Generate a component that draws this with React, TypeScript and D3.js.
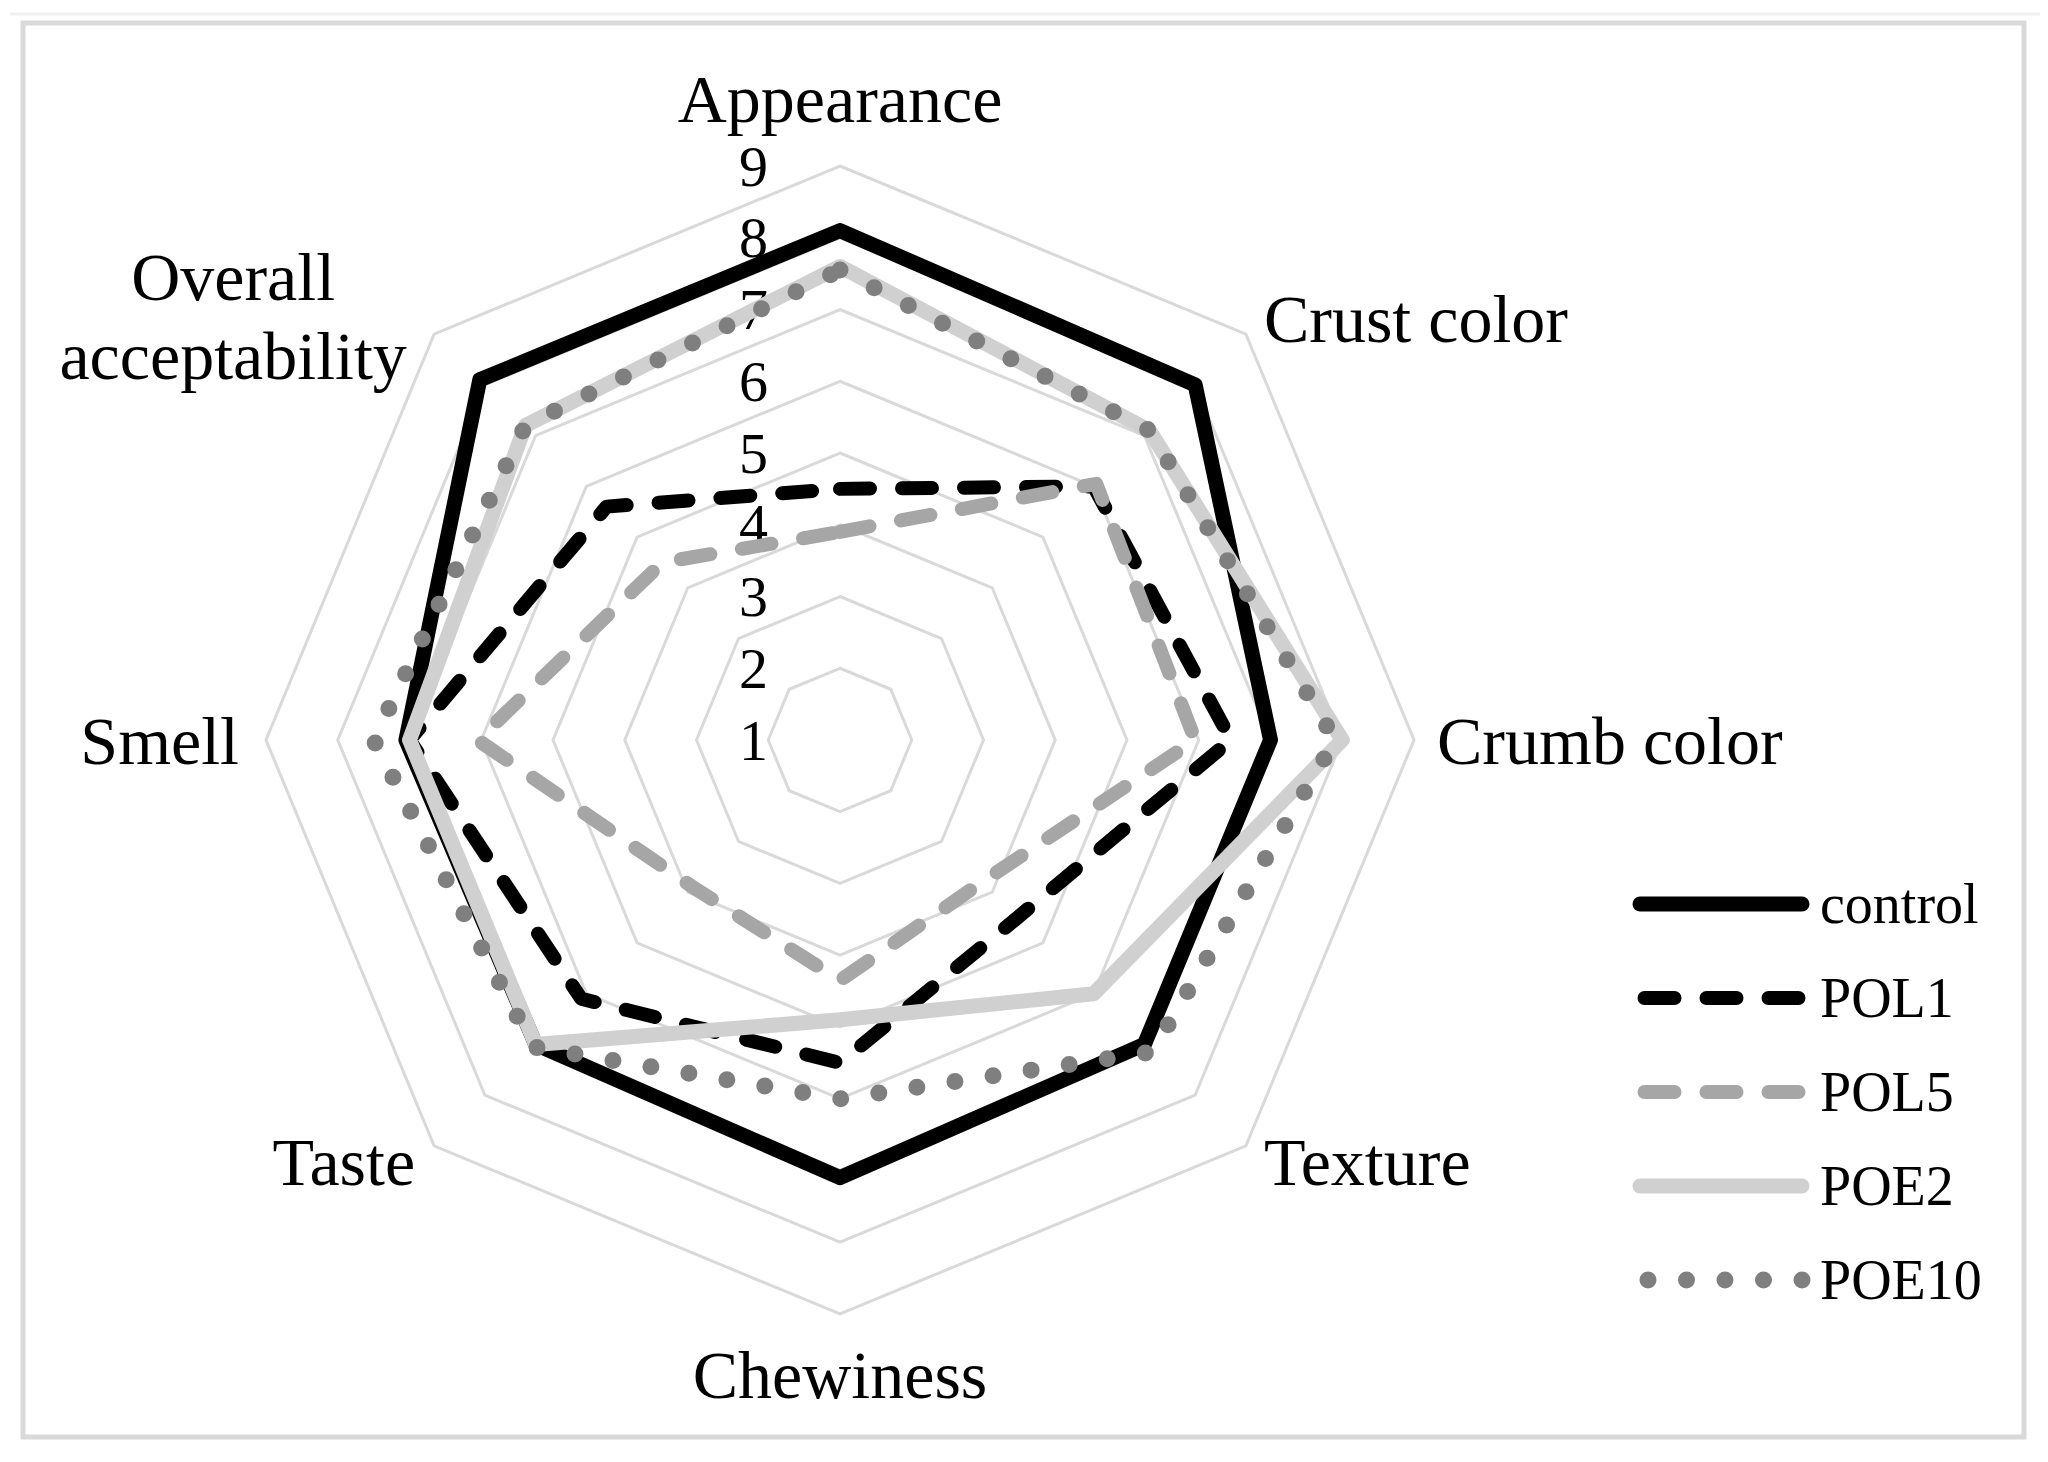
import React from 'react'
import * as d3 from 'd3'

// sensory attributes, clockwise from the top
const categories = ['Appearance', 'Crust color', 'Crumb color', 'Texture', 'Chewiness', 'Taste', 'Smell', 'Overall acceptability']
const tickValues = [1, 2, 3, 4, 5, 6, 7, 8, 9]

const seriesNames = ['control', 'POL1', 'POL5', 'POE2', 'POE10']
const control = [8.1, 8.0, 7.0, 7.0, 7.1, 7.0, 7.05, 8.1]
const pol1 = [4.5, 6.0, 6.45, 4.5, 5.5, 6.1, 7.0, 5.6]
const pol5 = [3.9, 6.05, 5.95, 3.8, 4.35, 3.9, 6.05, 4.5]
const poe2 = [7.6, 7.1, 8.0, 6.0, 4.9, 7.0, 7.0, 7.2]
const poe10 = [7.55, 7.1, 7.9, 7.15, 6.0, 7.05, 7.5, 7.2]

const seriesValues = [control, pol1, pol5, poe2, poe10]

const styles = [
	{ color: '#000000', width: 15, dash: null },
	{ color: '#000000', width: 14, dash: '30 32' },
	{ color: '#a6a6a6', width: 14, dash: '30 32' },
	{ color: '#d0d0d0', width: 15, dash: null },
	{ color: '#7f7f7f', width: 17, dash: '0 38.5' },
]

const W = 2048
const H = 1462
const cx = 840
const cy = 740
const R = 574
const font = '"Liberation Serif", "Times New Roman", serif'

// label placement relative to the outer vertex of each axis
const labelPos = [
	{ dx: 0, dy: -44, anchor: 'middle' },
	{ dx: 18, dy: 8, anchor: 'start' },
	{ dx: 23, dy: 24, anchor: 'start' },
	{ dx: 18, dy: 39, anchor: 'start' },
	{ dx: 0, dy: 84, anchor: 'middle' },
	{ dx: -19, dy: 39, anchor: 'end' },
	{ dx: -27, dy: 24, anchor: 'end' },
	{ dx: -201, dy: -34, anchor: 'middle' },
]

export default function App() {
	const r = d3.scaleLinear().domain([1, 9]).range([0, R])
	const angle = d3.scaleLinear().domain([0, categories.length]).range([0, 2 * Math.PI])

	const line = d3.lineRadial<number>()
		.angle((d, i) => angle(i))
		.radius(d => r(d))
		.curve(d3.curveLinearClosed)

	const rings = tickValues.filter(v => v > 1).map(v => (
		<path key={v} d={line(categories.map(() => v)) || ''} fill="none" stroke="#d9d9d9" strokeWidth={3} />
	))

	const ticks = tickValues.map(v => (
		<text key={v} x={768 - cx} y={-r(v)} dy="0.34em" textAnchor="end" fontSize={58} fontFamily={font} fill="#000">{v}</text>
	))

	const labels = categories.map((c, i) => {
		const a = angle(i)
		const x = Math.sin(a) * r(9) + labelPos[i].dx
		const y = -Math.cos(a) * r(9) + labelPos[i].dy
		if (c === 'Overall acceptability') {
			return (
				<text key={c} x={x} y={y} textAnchor="middle" fontSize={68} fontFamily={font}>
					<tspan x={x} dy={0}>Overall</tspan>
					<tspan x={x} dy={79}>acceptability</tspan>
				</text>
			)
		}
		return <text key={c} x={x} y={y} textAnchor={labelPos[i].anchor} fontSize={68} fontFamily={font}>{c}</text>
	})

	const series = seriesValues.map((vals, i) => (
		<path key={seriesNames[i]} d={line(vals) || ''} fill="none" stroke={styles[i].color}
			strokeWidth={styles[i].width} strokeDasharray={styles[i].dash || undefined}
			strokeLinecap="round" strokeLinejoin="round" />
	))

	const legendY = d3.scaleLinear().domain([0, 1]).range([904, 998])
	const legend = seriesNames.map((name, i) => {
		const y = legendY(i)
		const s = styles[i]
		const x0 = i === 4 ? 1648 : (s.dash ? 1644.5 : 1640)
		const x1 = i === 4 ? 1802.5 : (s.dash ? 1800 : 1802)
		return (
			<g key={name}>
				<line x1={x0} x2={x1} y1={y} y2={y} stroke={s.color} strokeWidth={s.width}
					strokeDasharray={s.dash || undefined} strokeLinecap="round" />
				<text x={1820} y={y} dy="0.34em" fontSize={56} fontFamily={font}>{name}</text>
			</g>
		)
	})

	return (
		<svg width={W} height={H} style={{ position: 'absolute', left: 0, top: 0, background: '#fff' }}>
			<rect x={0} y={0} width={W} height={H} fill="#fff" />
			<line x1={10} x2={2040} y1={14} y2={14} stroke="#f0f0f0" strokeWidth={3} />
			<rect x={23} y={23} width={2001} height={1414} fill="none" stroke="#d9d9d9" strokeWidth={5} />
			<g transform={`translate(${cx},${cy})`}>
				{rings}
				{ticks}
				{labels}
				{series}
			</g>
			{legend}
		</svg>
	)
}
